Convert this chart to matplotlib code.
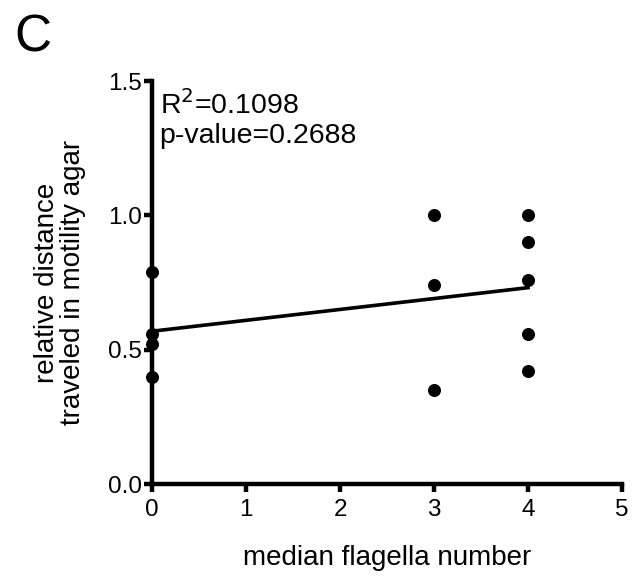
import numpy as np
import matplotlib
matplotlib.use('Agg')
import matplotlib.pyplot as plt

plt.rcParams['font.family'] = ['Liberation Sans', 'DejaVu Sans']

# median flagella number vs relative distance in motility agar
flagella = [0, 0, 0, 0, 3, 3, 3, 4, 4, 4, 4, 4]
distance = [0.79, 0.56, 0.52, 0.40, 1.00, 0.74, 0.35, 1.00, 0.90, 0.76, 0.56, 0.42]
r_squared = '0.1098'
p_value = '0.2688'
x_ticks = [0, 1, 2, 3, 4, 5]
y_ticks = [0.0, 0.5, 1.0, 1.5]

fig = plt.figure(figsize=(6.35, 5.83), dpi=100)
ax = fig.add_axes([0.2394, 0.1698, 0.7401, 0.6912])

# linear fit line over the data range
slope, intercept = np.polyfit(flagella, distance, 1)
fit_x = np.array([min(flagella), max(flagella)])
ax.plot(fit_x, slope * fit_x + intercept, color='black', lw=2.6, zorder=3, clip_on=False)

ax.scatter(flagella, distance, s=70, color='black', zorder=4, clip_on=False)

ax.set_xlim(0, 5)
ax.set_ylim(0, 1.5)
ax.set_xticks(x_ticks)
ax.set_yticks(y_ticks)
ax.set_yticklabels([f'{v:.1f}' for v in y_ticks])

ax.spines['top'].set_visible(False)
ax.spines['right'].set_visible(False)
for s in ['left', 'bottom']:
    ax.spines[s].set_linewidth(3.2)
ax.tick_params(axis='both', width=3.2, length=6, labelsize=17.5, direction='out')
ax.tick_params(axis='x', pad=5)
ax.tick_params(axis='y', pad=1)

ax.set_xlabel('median flagella number', fontsize=20, labelpad=17)
ax.set_ylabel('relative distance\ntraveled in motility agar', fontsize=20, labelpad=16,
              linespacing=1.0)

ax.text(0.08, 1.379, 'R$^2$=' + r_squared, fontsize=20.5, va='baseline', ha='left')
ax.text(0.08, 1.268, 'p-value=' + p_value, fontsize=20.5, va='baseline', ha='left')

fig.text(0.022, 0.935, 'C', fontsize=37, va='center', ha='left')

fig.savefig('out.png', dpi=100)
